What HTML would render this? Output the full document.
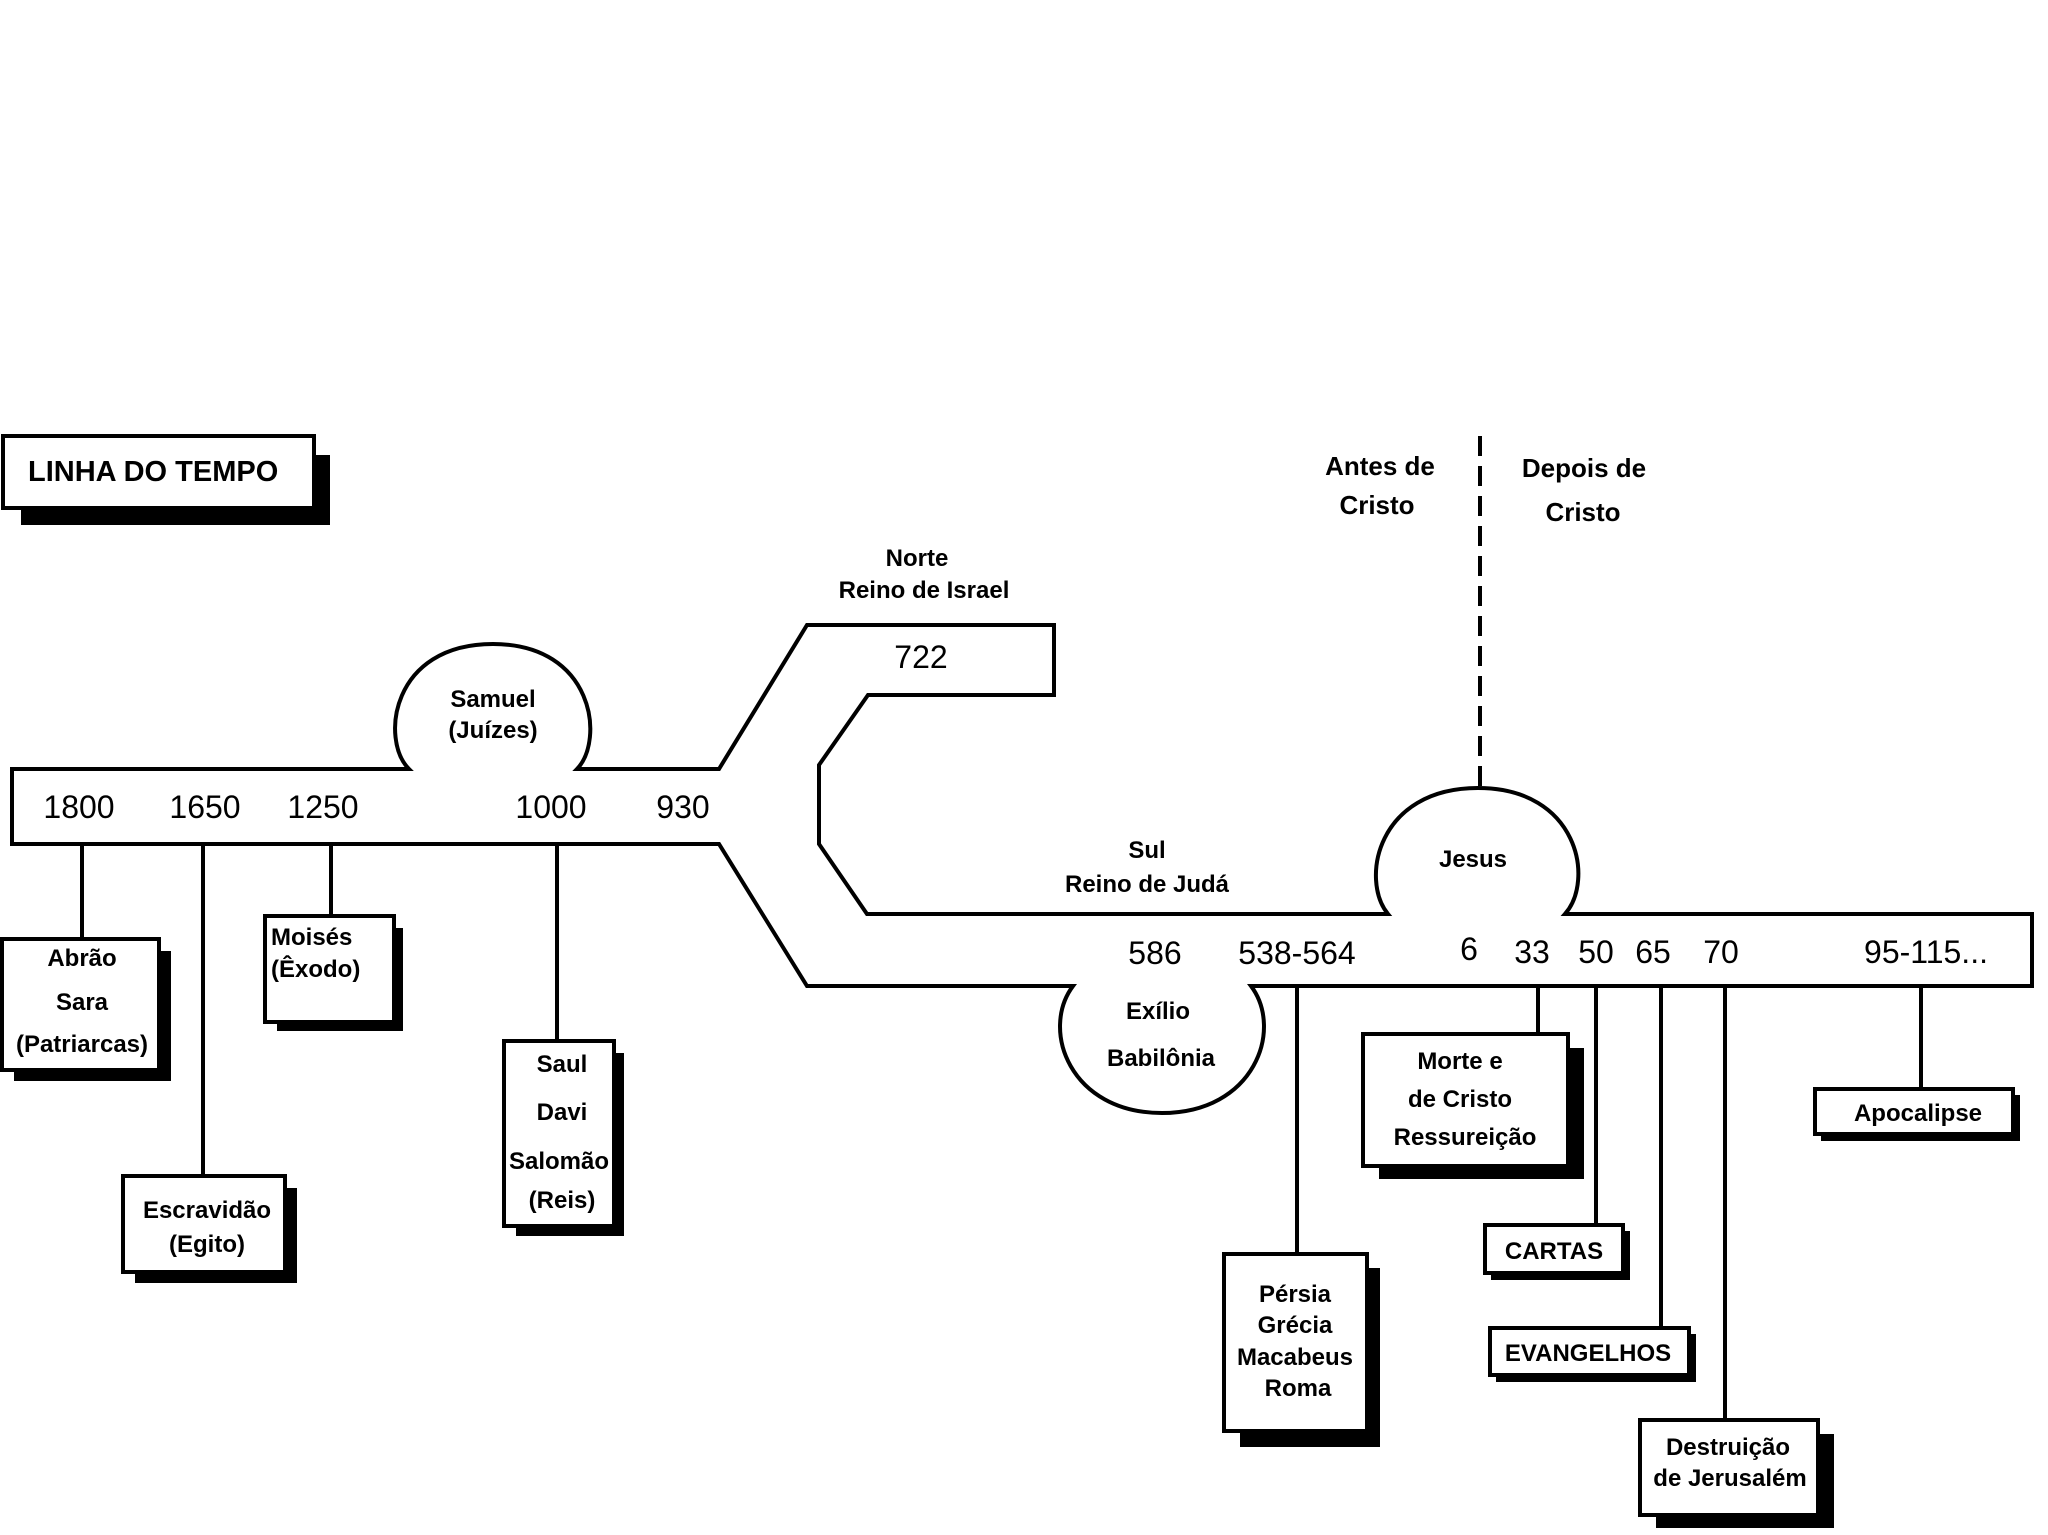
<!DOCTYPE html>
<html><head><meta charset="utf-8"><style>
html,body{margin:0;padding:0;background:#fff}
svg{display:block}
text{font-family:"Liberation Sans",Arial,sans-serif;fill:#000}
.l{font-weight:bold;font-size:24px;text-anchor:middle}
.y{font-size:32px;text-anchor:middle}
</style></head><body>
<svg width="2048" height="1535" viewBox="0 0 2048 1535" xmlns="http://www.w3.org/2000/svg">
<rect width="2048" height="1535" fill="#fff"/>
<g stroke="#000" stroke-width="4" fill="#fff">
<rect x="21" y="455" width="309" height="70" fill="#000" stroke="none"/>
<rect x="3" y="436" width="311" height="72"/>
<path d="M12 769 L409 769 C380 740 391 644 493 644 C594 644 605 740 577 769 L719 769 L807 625 L1054 625 L1054 695 L868 695 L819 765 L819 844 L867 914 L1388 914 C1360 880 1377 788 1478 788 C1578 788 1595 880 1565 914 L2032 914 L2032 986 L1251 986 C1284 1030 1254 1113 1162 1113 C1070 1113 1040 1030 1073 986 L807 986 L719 844 L12 844 Z"/>
<line x1="1480" y1="436" x2="1480" y2="786" stroke-dasharray="20,10"/>
<line x1="82" y1="844" x2="82" y2="939"/>
<line x1="203" y1="844" x2="203" y2="1176"/>
<line x1="331" y1="844" x2="331" y2="916"/>
<line x1="557" y1="844" x2="557" y2="1041"/>
<line x1="1297" y1="986" x2="1297" y2="1254"/>
<line x1="1538" y1="986" x2="1538" y2="1034"/>
<line x1="1596" y1="986" x2="1596" y2="1225"/>
<line x1="1661" y1="986" x2="1661" y2="1328"/>
<line x1="1725" y1="986" x2="1725" y2="1420"/>
<line x1="1921" y1="986" x2="1921" y2="1089"/>
<g fill="#000" stroke="none">
<rect x="14" y="951" width="157" height="130"/>
<rect x="135" y="1188" width="162" height="95"/>
<rect x="277" y="928" width="126" height="103"/>
<rect x="516" y="1053" width="108" height="183"/>
<rect x="1240" y="1268" width="140" height="179"/>
<rect x="1379" y="1048" width="205" height="131"/>
<rect x="1491" y="1231" width="139" height="49"/>
<rect x="1496" y="1334" width="200" height="48"/>
<rect x="1656" y="1434" width="178" height="94"/>
<rect x="1821" y="1095" width="199" height="46"/>
</g>
<rect x="2" y="939" width="157" height="131"/>
<rect x="123" y="1176" width="162" height="96"/>
<rect x="265" y="916" width="129" height="106"/>
<rect x="504" y="1041" width="110" height="185"/>
<rect x="1224" y="1254" width="143" height="177"/>
<rect x="1363" y="1034" width="205" height="132"/>
<rect x="1485" y="1225" width="138" height="48"/>
<rect x="1490" y="1328" width="199" height="47"/>
<rect x="1640" y="1420" width="178" height="95"/>
<rect x="1815" y="1089" width="198" height="45"/>
</g>
<text x="28" y="481" style="font-weight:bold;font-size:29px">LINHA DO TEMPO</text>
<text class="l" x="917" y="566">Norte</text>
<text class="l" x="924" y="598">Reino de Israel</text>
<text class="y" x="921" y="668">722</text>
<text class="l" x="493" y="707">Samuel</text>
<text class="l" x="493" y="738">(Juízes)</text>
<text class="y" x="79" y="818">1800</text>
<text class="y" x="205" y="818">1650</text>
<text class="y" x="323" y="818">1250</text>
<text class="y" x="551" y="818">1000</text>
<text class="y" x="683" y="818">930</text>
<text class="l" x="82" y="966">Abrão</text>
<text class="l" x="82" y="1010">Sara</text>
<text class="l" x="82" y="1052">(Patriarcas)</text>
<text class="l" x="207" y="1218">Escravidão</text>
<text class="l" x="207" y="1252">(Egito)</text>
<text class="l" x="271" y="945" style="text-anchor:start">Moisés</text>
<text class="l" x="271" y="977" style="text-anchor:start">(Êxodo)</text>
<text class="l" x="562" y="1072">Saul</text>
<text class="l" x="562" y="1120">Davi</text>
<text class="l" x="559" y="1169">Salomão</text>
<text class="l" x="562" y="1208">(Reis)</text>
<text class="l" x="1380" y="475" style="font-size:26px">Antes de</text>
<text class="l" x="1377" y="514" style="font-size:26px">Cristo</text>
<text class="l" x="1584" y="477" style="font-size:26px">Depois de</text>
<text class="l" x="1583" y="521" style="font-size:26px">Cristo</text>
<text class="l" x="1147" y="858">Sul</text>
<text class="l" x="1147" y="892">Reino de Judá</text>
<text class="l" x="1473" y="867">Jesus</text>
<text class="y" x="1155" y="964">586</text>
<text class="y" x="1297" y="964">538-564</text>
<text class="y" x="1469" y="960">6</text>
<text class="y" x="1532" y="963">33</text>
<text class="y" x="1596" y="963">50</text>
<text class="y" x="1653" y="963">65</text>
<text class="y" x="1721" y="963">70</text>
<text class="y" x="1926" y="963">95-115...</text>
<text class="l" x="1158" y="1019">Exílio</text>
<text class="l" x="1161" y="1066">Babilônia</text>
<text class="l" x="1295" y="1302">Pérsia</text>
<text class="l" x="1295" y="1333">Grécia</text>
<text class="l" x="1295" y="1365">Macabeus</text>
<text class="l" x="1298" y="1396">Roma</text>
<text class="l" x="1460" y="1069">Morte e</text>
<text class="l" x="1460" y="1107">de Cristo</text>
<text class="l" x="1465" y="1145">Ressureição</text>
<text class="l" x="1554" y="1259">CARTAS</text>
<text class="l" x="1588" y="1361">EVANGELHOS</text>
<text class="l" x="1728" y="1455">Destruição</text>
<text class="l" x="1730" y="1486">de Jerusalém</text>
<text class="l" x="1918" y="1121">Apocalipse</text>
</svg>
</body></html>
